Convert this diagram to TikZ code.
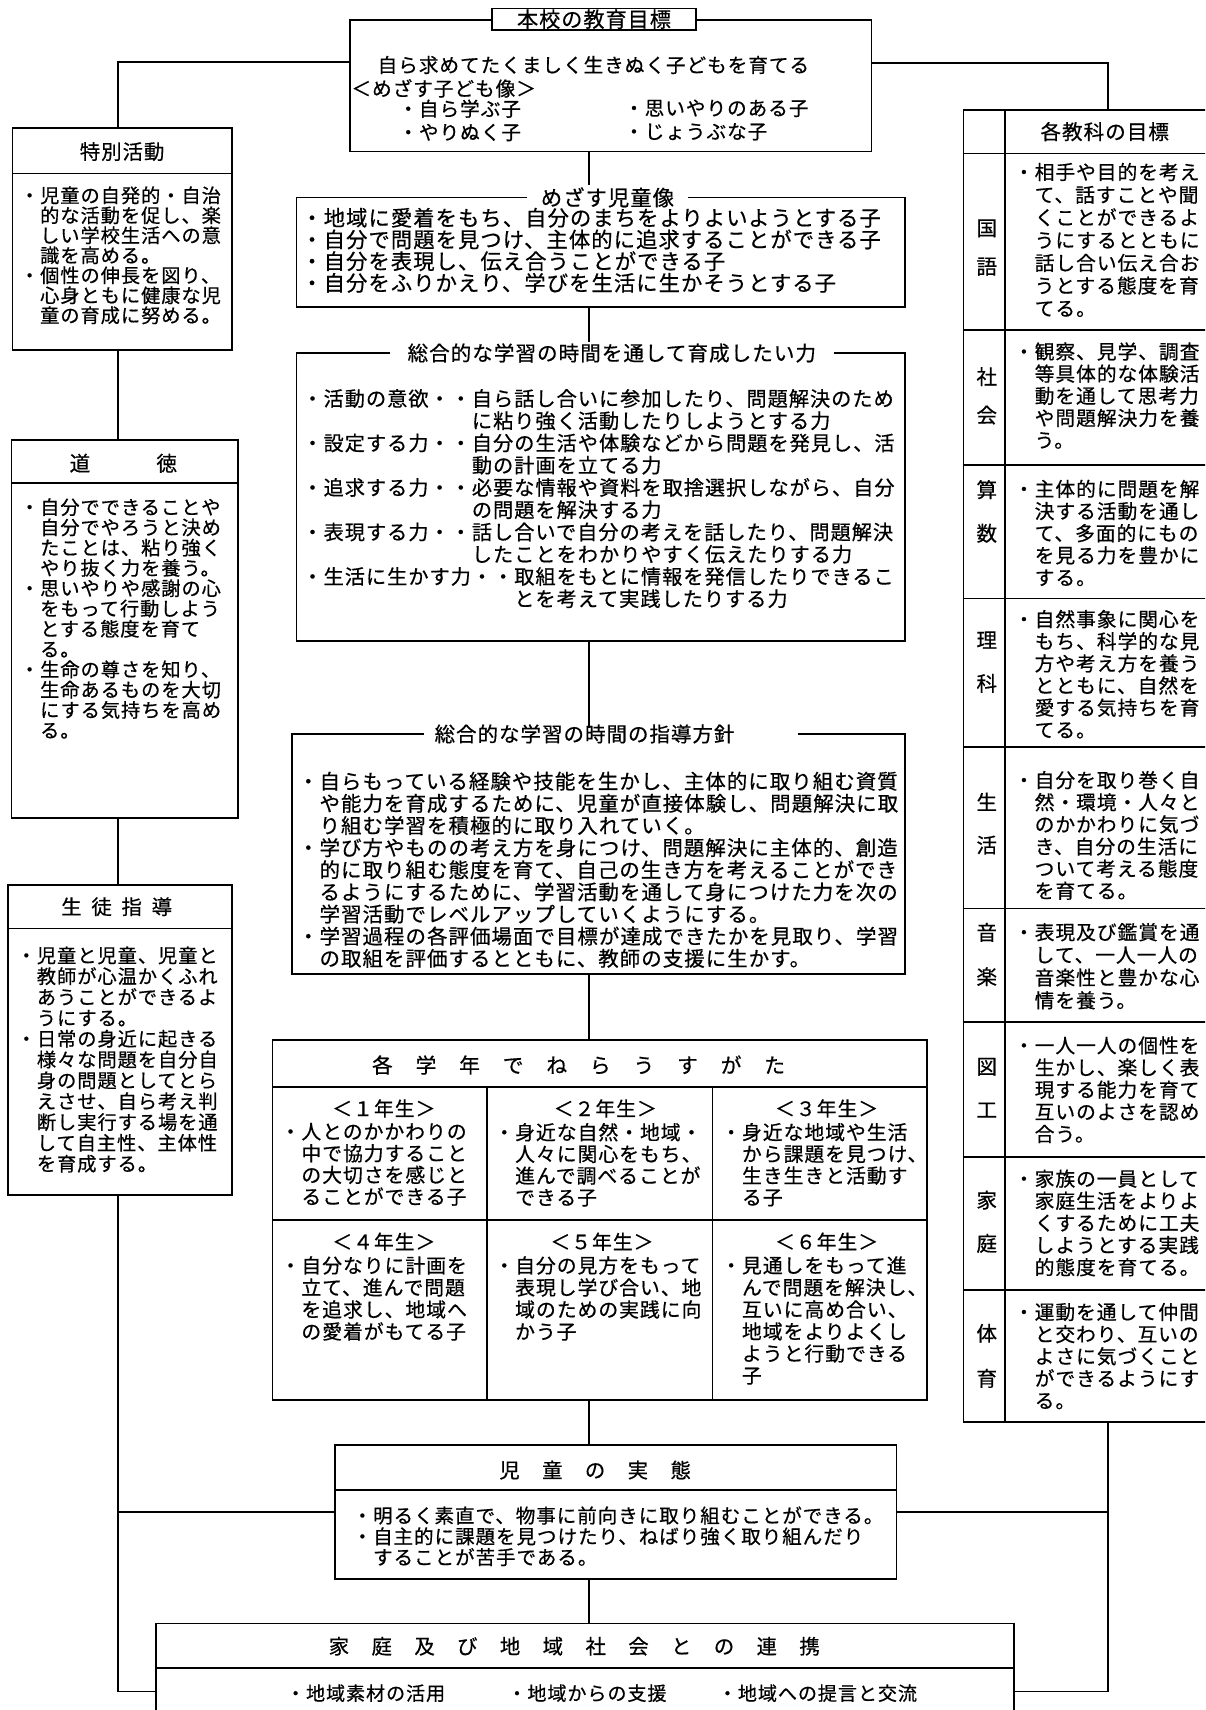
\documentclass[tikz,border=0pt]{standalone}
\usepackage{fontspec}
\newfontfamily\jp[LetterSpace=5,FakeBold=0.6]{Noto Sans CJK JP}
\newcommand{\jpf}[2]{\jp\fontsize{#1}{#2}\selectfont}
\usetikzlibrary{fit}

\begin{document}
\begin{tikzpicture}[x=0.6pt,y=-0.6pt]
\tikzstyle{frame} = [draw, line width=0.9pt, inner sep=0pt]
\tikzstyle{rule} = [line width=0.9pt]
\tikzstyle{para} = [anchor=north west, align=left, inner sep=0pt]
\tikzstyle{single} = [anchor=west, inner sep=0pt]
\tikzstyle{heading} = [inner sep=0pt]

\useasboundingbox (0,0) rectangle (1105,1568);
\clip (0,0) rectangle (1105,1568);
\coordinate (axis) at (540,0);
\coordinate (leftAxis) at (108,0);

% frames
\node(honko) [frame, fit={(321,18.3) (799,139)}] {};
\node(toku) [frame, fit={(11.6,117.4) (212.5,321)}] {};
\node(dotoku) [frame, fit={(10.7,403.5) (218,750)}] {};
\node(seito) [frame, fit={(7.6,811.6) (212.5,1095.8)}] {};
\node(mezasu) [frame, fit={(272,181) (830,281.8)}] {};
\node(sogo) [frame, fit={(272,323.7) (830,588)}] {};
\node(shido) [frame, fit={(268,673) (830,893)}] {};
\node(gakunen) [frame, fit={(250,953.7) (850,1283.8)}] {};
\node(kyoka) [frame, fit={(883.4,100.9) (1149,1303.7)}] {};
\node(jittai) [frame, fit={(307,1325) (822,1448)}] {};
\node(katei) [frame, fit={(143,1488.6) (930,1613.4)}] {};

% rules inside frames
\draw[rule] (toku.west |- 0,159) -- (toku.east |- 0,159);
\draw[rule] (dotoku.west |- 0,443) -- (dotoku.east |- 0,443);
\draw[rule] (seito.west |- 0,851.3) -- (seito.east |- 0,851.3);
\draw[rule] (gakunen.west |- 0,996.5) -- (gakunen.east |- 0,996.5);
\draw[rule] (gakunen.west |- 0,1118.8) -- (gakunen.east |- 0,1118.8);
\foreach \xx in {446.7,653.2}
  \draw[rule] (\xx,996.5) -- (\xx,1283.8);
\draw[rule] (921.6,100.9) -- (921.6,1303.7);
\foreach \yy in {140.6,302.6,426.4,548.7,684.7,833,936.9,1060.7,1183}
  \draw[rule] (kyoka.west |- 0,\yy) -- (kyoka.east |- 0,\yy);
\draw[rule] (jittai.west |- 0,1366.3) -- (jittai.east |- 0,1366.3);
\draw[rule] (katei.west |- 0,1529.6) -- (katei.east |- 0,1529.6);

% connectors
\draw[rule] (honko.west |- 0,57) -| (toku.north -| leftAxis);
\draw[rule] (honko.east |- 0,58) -| (kyoka.north);
\draw[rule] (honko.south -| axis) -- (mezasu.north -| axis);
\draw[rule] (mezasu.south -| axis) -- (sogo.north -| axis);
\draw[rule] (sogo.south -| axis) -- (shido.north -| axis);
\draw[rule] (shido.south -| axis) -- (gakunen.north -| axis);
\draw[rule] (gakunen.south -| axis) -- (jittai.north -| axis);
\draw[rule] (jittai.south -| axis) -- (katei.north -| axis);
\draw[rule] (toku.south -| leftAxis) -- (dotoku.north -| leftAxis);
\draw[rule] (dotoku.south -| leftAxis) -- (seito.north -| leftAxis);
\draw[rule] (seito.south -| leftAxis) |- (katei.west);
\draw[rule] (jittai.west) -- (jittai.west -| leftAxis);
\draw[rule] (kyoka.south) |- (katei.east);
\draw[rule] (jittai.east) -- (jittai.east -| kyoka.south);

% top frame
\node(honkoTitle) [heading, draw, line width=0.9pt, fill=white, minimum width=112pt, minimum height=11.9pt, font=\jpf{11.6}{13}] at (544.7,17.6) {本校の教育目標};
\node(honkoGoal) [single, font=\jpf{10.79}{12}] at (346,59.6) {自ら求めてたくましく生きぬく子どもを育てる};
\node(honkoAim) [single, font=\jpf{10.79}{12}] at (322,81) {＜めざす子ども像＞};
\node(honkoKidsA) [para, font=\jpf{10.79}{12.9}] at (365,91) {・自ら学ぶ子\\・やりぬく子};
\node(honkoKidsB) [para, font=\jpf{10.79}{12.9}] at (572,91) {・思いやりのある子\\・じょうぶな子};

% left column
\node(tokuTitle) [heading, font=\jpf{11.21}{12}] at (112,139) {特別活動};
\node(tokuText) [para, font=\jpf{10.58}{11}] at (18,170.6) {・児童の自発的・自治\\　的な活動を促し、楽\\　しい学校生活への意\\　識を高める。\\・個性の伸長を図り、\\　心身ともに健康な児\\　童の育成に努める。};
\node(dotokuTitle) [heading, font=\jpf{11.37}{12}] at (113.1,424.8) {道　　　徳};
\node(dotokuText) [para, font=\jpf{10.58}{11.16}] at (18,456.5) {・自分でできることや\\　自分でやろうと決め\\　たことは、粘り強く\\　やり抜く力を養う。\\・思いやりや感謝の心\\　をもって行動しよう\\　とする態度を育て\\　る。\\・生命の尊さを知り、\\　生命あるものを大切\\　にする気持ちを高め\\　る。};
\node(seitoTitle) [heading, font=\jpf{11.21}{12}] at (107,831.4) {生\hskip.48em 徒\hskip.48em 指\hskip.48em 導};
\node(seitoText) [para, font=\jpf{10.58}{11.46}] at (15,867.6) {・児童と児童、児童と\\　教師が心温かくふれ\\　あうことができるよ\\　うにする。\\・日常の身近に起きる\\　様々な問題を自分自\\　身の問題としてとら\\　えさせ、自ら考え判\\　断し実行する場を通\\　して自主性、主体性\\　を育成する。};

% centre column
\node(mezasuTitle) [heading, fill=white, inner xsep=7.8pt, inner ysep=1pt, font=\jpf{11.73}{13}] at (557,181) {めざす児童像};
\node(mezasuText) [para, font=\jpf{11.73}{11.94}] at (276,190.3) {・地域に愛着をもち、自分のまちをよりよいようとする子\\・自分で問題を見つけ、主体的に追求することができる子\\・自分を表現し、伝え合うことができる子\\・自分をふりかえり、学びを生活に生かそうとする子};

\node(sogoTitle) [heading, fill=white, inner xsep=9.6pt, inner ysep=1pt, font=\jpf{11.31}{13}] at (561,323.7) {総合的な学習の時間を通して育成したい力};
\node(sogoText) [para, font=\jpf{11.1}{12.24}] at (277,356.5) {・活動の意欲・・自ら話し合いに参加したり、問題解決のため\\　　　　　　　　に粘り強く活動したりしようとする力\\・設定する力・・自分の生活や体験などから問題を発見し、活\\　　　　　　　　動の計画を立てる力\\・追求する力・・必要な情報や資料を取捨選択しながら、自分\\　　　　　　　　の問題を解決する力\\・表現する力・・話し合いで自分の考えを話したり、問題解決\\　　　　　　　　したことをわかりやすく伝えたりする力\\・生活に生かす力・・取組をもとに情報を発信したりできるこ\\　　　　　　　　　　とを考えて実践したりする力};

\fill[white] (388.4,668) rectangle (731.5,678);
\node(shidoTitle) [heading, font=\jpf{11.26}{13}] at (536,673) {総合的な学習の時間の指導方針};
\node(shidoText) [para, font=\jpf{11.26}{12.18}] at (273,707.3) {・自らもっている経験や技能を生かし、主体的に取り組む資質\\　や能力を育成するために、児童が直接体験し、問題解決に取\\　り組む学習を積極的に取り入れていく。\\・学び方やものの考え方を身につけ、問題解決に主体的、創造\\　的に取り組む態度を育て、自己の生き方を考えることができ\\　るようにするために、学習活動を通して身につけた力を次の\\　学習活動でレベルアップしていくようにする。\\・学習過程の各評価場面で目標が達成できたかを見取り、学習\\　の取組を評価するとともに、教師の支援に生かす。};

% grades
\node(gakunenTitle) [heading, font=\jpf{11.42}{13}] at (530.5,976.6) {各　学　年　で　ね　ら　う　す　が　た};
\node(grade1) [heading, font=\jpf{10.9}{12}] at (352,1016.4) {＜１年生＞};
\node(grade2) [heading, font=\jpf{10.9}{12}] at (555,1016.4) {＜２年生＞};
\node(grade3) [heading, font=\jpf{10.9}{12}] at (758,1016.4) {＜３年生＞};
\node(grade1Text) [para, font=\jpf{10.9}{11.94}] at (257,1029.4) {・人とのかかわりの\\　中で協力すること\\　の大切さを感じと\\　ることができる子};
\node(grade2Text) [para, font=\jpf{10.9}{11.94}] at (453,1029.4) {・身近な自然・地域・\\　人々に関心をもち、\\　進んで調べることが\\　できる子};
\node(grade3Text) [para, font=\jpf{10.9}{11.94}] at (661,1029.4) {・身近な地域や生活\\　から課題を見つけ、\\　生き生きと活動す\\　る子};
\node(grade4) [heading, font=\jpf{10.9}{12}] at (352,1138.6) {＜４年生＞};
\node(grade5) [heading, font=\jpf{10.9}{12}] at (552,1138.6) {＜５年生＞};
\node(grade6) [heading, font=\jpf{10.9}{12}] at (758,1138.6) {＜６年生＞};
\node(grade4Text) [para, font=\jpf{10.9}{12.12}] at (257,1151.6) {・自分なりに計画を\\　立て、進んで問題\\　を追求し、地域へ\\　の愛着がもてる子};
\node(grade5Text) [para, font=\jpf{10.9}{12.12}] at (453,1151.6) {・自分の見方をもって\\　表現し学び合い、地\\　域のための実践に向\\　かう子};
\node(grade6Text) [para, font=\jpf{10.9}{12.12}] at (661,1151.6) {・見通しをもって進\\　んで問題を解決し、\\　互いに高め合い、\\　地域をよりよくし\\　ようと行動できる\\　子};

% subjects
\node(kyokaTitle) [heading, font=\jpf{11.31}{12}] at (1013,120.7) {各教科の目標};
\foreach \ch/\yy [count=\k] in {国/209.4,語/244.5,社/345.4,会/380.6,算/449,数/489,理/586.9,科/626.6,生/735.2,活/774.9,音/855,楽/895.6,図/978.2,工/1017.9,家/1100.4,庭/1140.1,体/1222.6,育/1263.9}
  \node(subj\k) [heading, font=\jpf{11.31}{12}] at (904.8,\yy) {\ch};
\node(kokugo) [para, font=\jpf{10.85}{12.5}] at (929.5,149) {・相手や目的を考え\\　て、話すことや聞\\　くことができるよ\\　うにするとともに\\　話し合い伝え合お\\　うとする態度を育\\　てる。};
\node(shakai) [para, font=\jpf{10.85}{12.18}] at (929.5,313.6) {・観察、見学、調査\\　等具体的な体験活\\　動を通して思考力\\　や問題解決力を養\\　う。};
\node(sansu) [para, font=\jpf{10.85}{12.18}] at (929.5,439.6) {・主体的に問題を解\\　決する活動を通し\\　て、多面的にもの\\　を見る力を豊かに\\　する。};
\node(rika) [para, font=\jpf{10.85}{12.18}] at (929.5,558.9) {・自然事象に関心を\\　もち、科学的な見\\　方や考え方を養う\\　とともに、自然を\\　愛する気持ちを育\\　てる。};
\node(seikatsu) [para, font=\jpf{10.85}{12.18}] at (929.5,706.6) {・自分を取り巻く自\\　然・環境・人々と\\　のかかわりに気づ\\　き、自分の生活に\\　ついて考える態度\\　を育てる。};
\node(ongaku) [para, font=\jpf{10.85}{12.5}] at (929.5,846.1) {・表現及び鑑賞を通\\　して、一人一人の\\　音楽性と豊かな心\\　情を養う。};
\node(zuko) [para, font=\jpf{10.85}{12.18}] at (929.5,949.9) {・一人一人の個性を\\　生かし、楽しく表\\　現する能力を育て\\　互いのよさを認め\\　合う。};
\node(katei2) [para, font=\jpf{10.85}{12.18}] at (929.5,1072.1) {・家族の一員として\\　家庭生活をよりよ\\　くするために工夫\\　しようとする実践\\　的態度を育てる。};
\node(taiiku) [para, font=\jpf{10.85}{12.18}] at (929.5,1194.4) {・運動を通して仲間\\　と交わり、互いの\\　よさに気づくこと\\　ができるようにす\\　る。};

% bottom
\node(jittaiTitle) [heading, font=\jpf{11.21}{12}] at (545.7,1348) {児　童　の　実　態};
\node(jittaiText) [para, font=\jpf{10.74}{11.46}] at (323,1381) {・明るく素直で、物事に前向きに取り組むことができる。\\・自主的に課題を見つけたり、ねばり強く取り組んだり\\　することが苦手である。};
\node(kateiTitle) [heading, font=\jpf{11.21}{12}] at (526.6,1509.5) {家　庭　及　び　地　域　社　会　と　の　連　携};
\node(kateiA) [single, font=\jpf{10.48}{12}] at (262,1552.6) {・地域素材の活用};
\node(kateiB) [single, font=\jpf{10.48}{12}] at (465,1552.6) {・地域からの支援};
\node(kateiC) [single, font=\jpf{10.48}{12}] at (658,1552.6) {・地域への提言と交流};
\end{tikzpicture}
\end{document}
